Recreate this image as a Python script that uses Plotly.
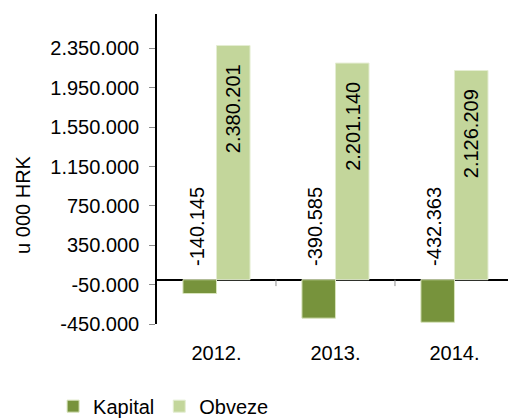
import plotly.graph_objects as go

# Data (u 000 HRK)
years = ["2012.", "2013.", "2014."]
kapital = [-140145, -390585, -432363]
obveze = [2380201, 2201140, 2126209]
kapital_labels = ["-140.145", "-390.585", "-432.363"]
obveze_labels = ["2.380.201", "2.201.140", "2.126.209"]
y_ticks = [-450000, -50000, 350000, 750000, 1150000, 1550000, 1950000, 2350000]
y_tick_labels = ["-450.000", "-50.000", "350.000", "750.000", "1.150.000",
                 "1.550.000", "1.950.000", "2.350.000"]
y_title = "u 000 HRK"

# Styling
FONT = "Liberation Sans"
FS = 20
C_KAP = "#77933C"
C_OBV = "#C3D69B"
BAR_W = 0.282  # width of a single bar in category units

fig = go.Figure()
fig.add_trace(go.Bar(
    name="Kapital", x=list(range(len(years))), y=kapital,
    marker=dict(color=C_KAP, line=dict(color="#D8E4BC", width=1)),
    width=BAR_W, offset=-BAR_W,
))
fig.add_trace(go.Bar(
    name="Obveze", x=list(range(len(years))), y=obveze,
    marker=dict(color=C_OBV, line=dict(color="#E4EDD2", width=1)),
    width=BAR_W, offset=0,
))

annotations = []
for i in range(len(years)):
    # Kapital value labels sit above the zero line
    annotations.append(dict(
        x=i - BAR_W / 2, y=0, xref="x", yref="y",
        text=kapital_labels[i], textangle=-90, showarrow=False,
        xanchor="center", yanchor="bottom", yshift=12, xshift=-3,
        font=dict(family=FONT, size=FS, color="black"),
    ))
    # Obveze value labels sit inside the top of the bar
    annotations.append(dict(
        x=i + BAR_W / 2, y=obveze[i], xref="x", yref="y",
        text=obveze_labels[i], textangle=-90, showarrow=False,
        xanchor="center", yanchor="top", yshift=-17,
        font=dict(family=FONT, size=FS, color="black"),
    ))

# vertical axis title, placed a little below the plot's mid-height
annotations.append(dict(
    x=-0.382, y=0.384, xref="paper", yref="paper",
    text=y_title, textangle=-90, showarrow=False,
    xanchor="center", yanchor="middle",
    font=dict(family=FONT, size=FS, color="black"),
))

# small category divider ticks below the zero line
shapes = []
for b in [0.5, 1.5]:
    shapes.append(dict(type="line", xref="x", yref="y", x0=b, x1=b,
                       y0=0, y1=-65000, line=dict(color="#8C8C8C", width=1)))

fig.update_layout(
    width=508, height=418,
    margin=dict(l=157, r=0, t=14, b=94, autoexpand=False),
    paper_bgcolor="white", plot_bgcolor="white",
    font=dict(family=FONT, size=FS, color="black"),
    barmode="overlay",
    showlegend=True,
    legend=dict(orientation="h", x=-0.296, xanchor="left",
                y=-0.265, yanchor="middle",
                font=dict(family=FONT, size=FS, color="black"),
                itemwidth=30, traceorder="normal"),
    annotations=annotations,
    shapes=shapes,
    xaxis=dict(
        range=[-0.5, 2.45], tickmode="array", tickvals=list(range(len(years))),
        ticktext=years, showgrid=False, zeroline=False, showline=False,
        ticks="", ticklabelstandoff=15,
        tickfont=dict(family=FONT, size=FS, color="black"),
    ),
    yaxis=dict(
        range=[-450000, 2700000], tickmode="array", tickvals=y_ticks,
        ticktext=y_tick_labels, showgrid=False,
        zeroline=True, zerolinecolor="black", zerolinewidth=1.5,
        showline=True, linecolor="black", linewidth=1.5,
        ticks="outside", ticklen=6, tickcolor="#8C8C8C", tickwidth=1,
        ticklabelstandoff=6,
        tickfont=dict(family=FONT, size=FS, color="black"),
        automargin=False,
    ),
)

fig.write_html("out.html")
